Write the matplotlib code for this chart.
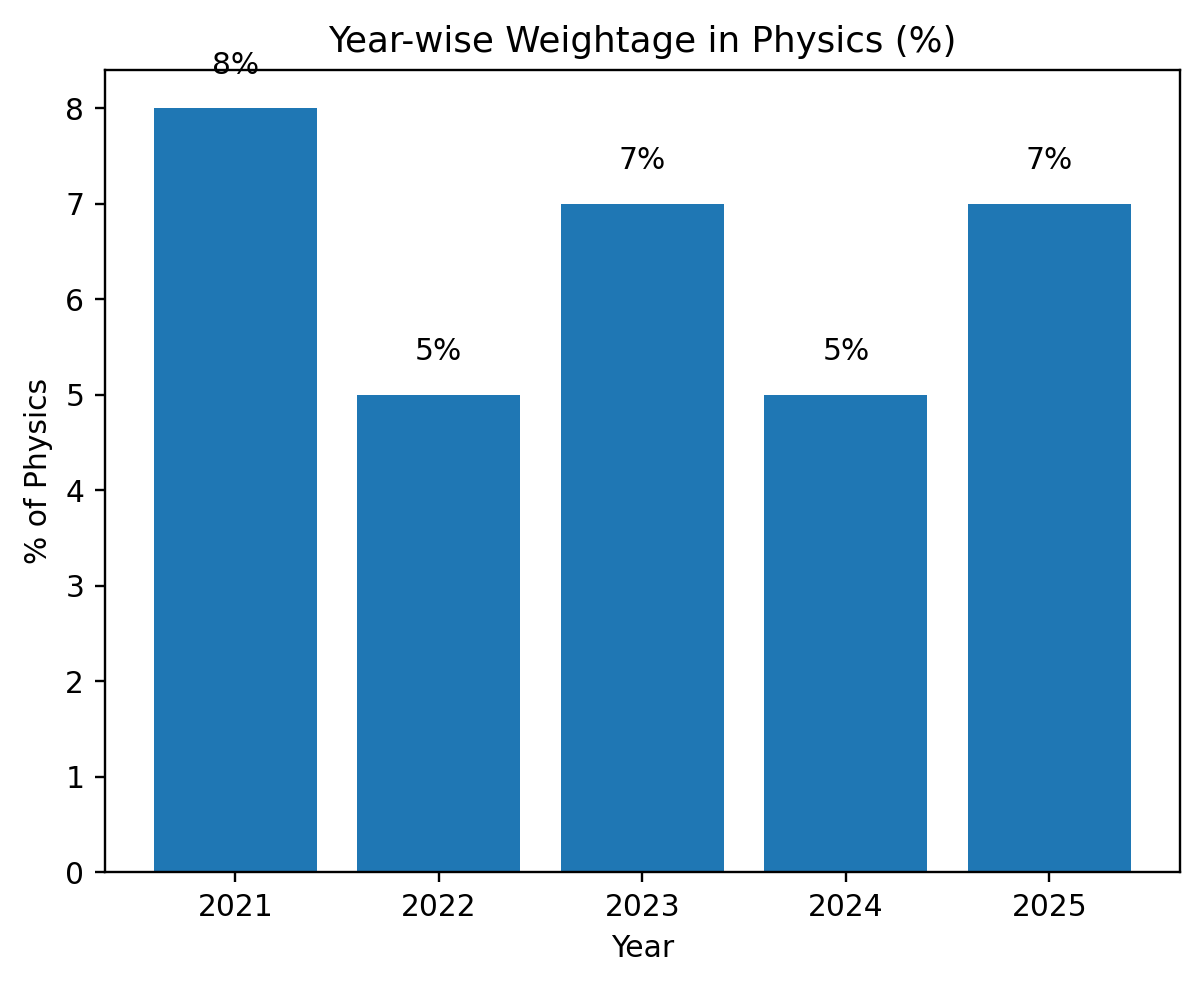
import matplotlib
matplotlib.use("Agg")
import matplotlib.pyplot as plt

# Data
years = ["2021", "2022", "2023", "2024", "2025"]
weightage = [8, 5, 7, 5, 7]

DPI = 214
fig, ax = plt.subplots(figsize=(1200 / DPI, 986 / DPI), dpi=DPI)
fig.subplots_adjust(left=0.0875, right=0.983, top=0.929, bottom=0.1156)

bars = ax.bar(years, weightage, color="#1f77b4")

# value labels above each bar
for bar, v in zip(bars, weightage):
    ax.text(bar.get_x() + bar.get_width() / 2, v + 0.3, f"{v}%",
            ha="center", va="bottom")

ax.set_title("Year-wise Weightage in Physics (%)")
ax.set_xlabel("Year")
ax.set_ylabel("% of Physics")

fig.savefig("out.png", dpi=DPI)
